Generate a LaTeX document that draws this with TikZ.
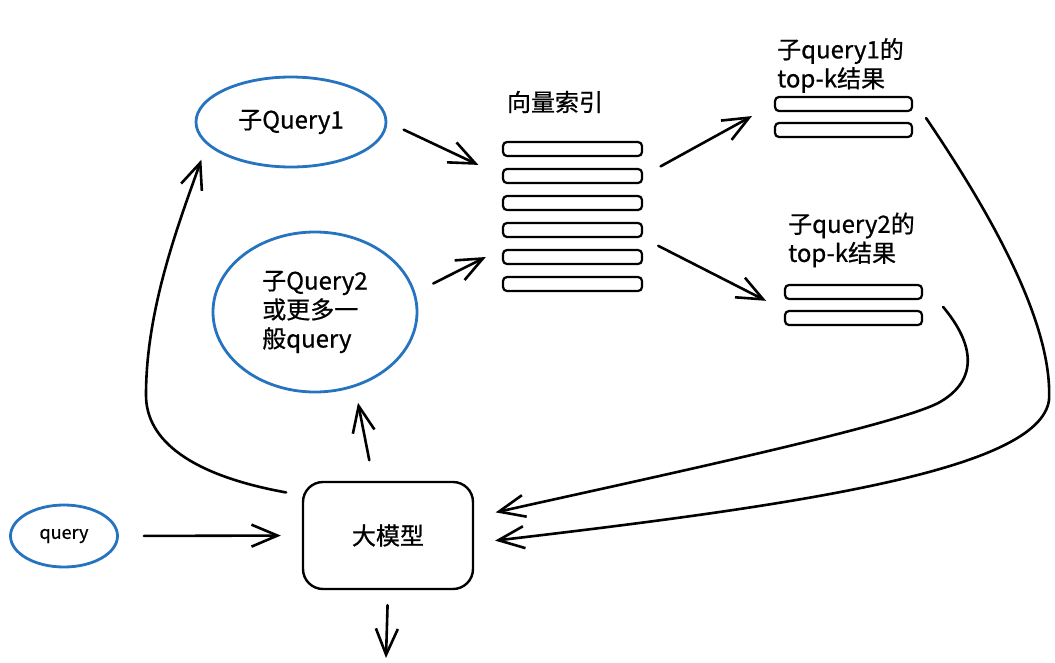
\documentclass[tikz,border=0pt]{standalone}
\usepackage{fontspec}
\newfontfamily\cjk[FakeBold=0.7]{Noto Sans CJK SC}
\usepackage{tikz}
\usetikzlibrary{shapes.geometric,arrows.meta}
\definecolor{qblue}{RGB}{38,115,192}
\tikzset{
  sub/.style={ellipse, draw=qblue, line width=2.8pt, inner sep=0pt, align=left,
    font=\cjk\fontsize{24}{29}\selectfont},
  bar/.style={draw, line width=2.2pt, rounded corners=4pt, minimum width=137pt,
    minimum height=14pt, inner sep=0pt},
  txt/.style={font=\cjk\fontsize{24}{29}\selectfont, align=left, inner sep=0pt},
  arr/.style={-{Straight Barb[length=26pt,width=22pt]}, line width=2.6pt, line cap=round},
}

\begin{document}
\begin{tikzpicture}[x=1pt, y=-1pt]
\useasboundingbox (0,0) rectangle (1055,662);
\node [sub, minimum width=190pt, minimum height=90pt] (q1) at (291,122) {子Query1};
\node [sub, minimum width=204pt, minimum height=160pt] (q2) at (315,312) {子Query2\\或更多一\\般query};
\node [sub, minimum width=107pt, minimum height=62pt, font=\cjk\fontsize{18}{22}\selectfont] (query) at (64,536) {query};
\node [draw, line width=2.4pt, rounded corners=20pt, minimum width=170pt, minimum height=107pt, font=\cjk\fontsize{24}{29}\selectfont] (llm) at (388,535.5) {大模型};
\coordinate (out) at (386,658);

\node [txt] (idxlabel) at (555,102) {向量索引};
\foreach \n in {1,...,6}
  \node [bar, minimum width=139pt] (idx\n) at (572.5,{149+27*(\n-1)}) {};

\node [txt, anchor=west] (res1label) at (777,65.5) {子query1的\\top-k结果};
\node [bar] (res1a) at (843.5,104) {};
\node [bar] (res1b) at (843.5,130) {};
\node [txt, anchor=west] (res2label) at (788,240) {子query2的\\top-k结果};
\node [bar] (res2a) at (853.5,292) {};
\node [bar] (res2b) at (853.5,318) {};

\draw [arr, shorten <=25pt, shorten >=21pt] (query.east) -- (llm.west);
\draw [arr, shorten <=21pt, shorten >=16pt] (llm.105) -- (q2.-62);
\draw [arr, shorten <=15pt] (llm.south) -- (out);
\draw [arr, shorten <=16pt, shorten >=16pt] (llm.155) .. controls (190,475) and (146,440) .. (146,395)
  .. controls (146,310) and (178,225) .. (q1.-165);
\draw [arr, shorten <=18pt, shorten >=26pt] (q1.east) -- (idx2.west);
\draw [arr, shorten <=20pt, shorten >=18pt] (q2.11) -- (idx5.north west);
\draw [arr, shorten <=20pt, shorten >=25pt] (idx2.east) -- (res1a.west);
\draw [arr, shorten <=17pt, shorten >=20pt] (idx4.south east) -- (res2b.north west);
\draw [arr, shorten >=21pt] ([xshift=13pt,yshift=-6pt]res1a.south east) .. controls (985,205) and (1053,320) .. (1049,400)
  .. controls (1040,470) and (800,505) .. (llm.-5);
\draw [arr, shorten >=22pt] ([xshift=20pt,yshift=3pt]res2b.north east) .. controls (975,345) and (978,380) .. (940,402)
  .. controls (900,425) and (640,480) .. (llm.12);
\end{tikzpicture}
\end{document}
